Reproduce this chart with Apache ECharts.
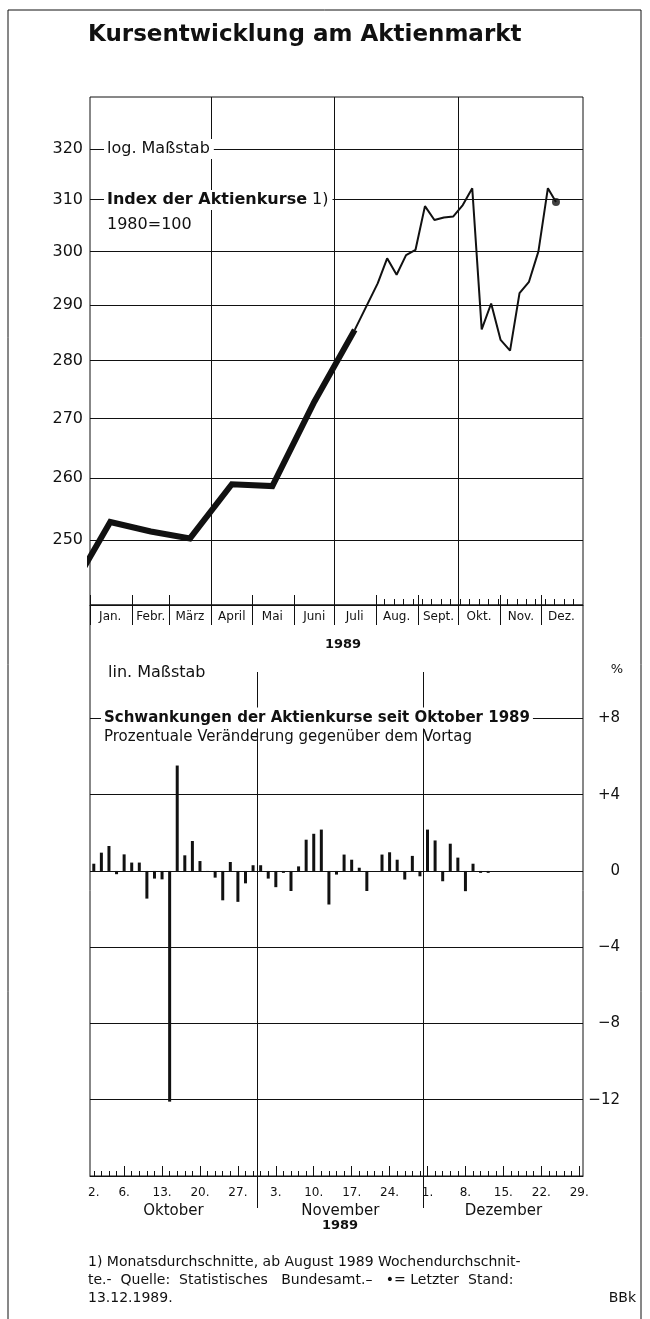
<!DOCTYPE html>
<html><head><meta charset="utf-8">
<script src="https://cdn.jsdelivr.net/npm/echarts@6/dist/echarts.min.js"></script>
<style>html,body{margin:0;padding:0;background:#fff}#c{width:650px;height:1319px}</style>
</head><body><div id="c"></div>
<script>
// ---------- Top chart data ----------
const monthLabels = ['Jan.','Febr.','März','April','Mai','Juni','Juli','Aug.','Sept.','Okt.','Nov.','Dez.'];
const monthStarts = ['1989-01-01','1989-02-01','1989-03-01','1989-04-01','1989-05-01','1989-06-01','1989-07-01','1989-08-01','1989-09-01','1989-10-01','1989-11-01','1989-12-01'];
const monthMids = ['1989-01-16','1989-02-15','1989-03-16','1989-04-16','1989-05-16','1989-06-16','1989-07-16','1989-08-16','1989-09-16','1989-10-16','1989-11-16','1989-12-16'];
const quarterLines = ['1989-04-01','1989-07-01','1989-10-01'];
const weekTicks = ['1989-08-07','1989-08-14','1989-08-21','1989-08-28','1989-09-04','1989-09-11','1989-09-18','1989-09-25','1989-10-02','1989-10-09','1989-10-16','1989-10-23','1989-10-30','1989-11-06','1989-11-13','1989-11-20','1989-11-27','1989-12-04','1989-12-11','1989-12-18','1989-12-25'];
const yTicksTop = [250,260,270,280,290,300,310,320];
const monthlyDates = ['1988-12-16','1989-01-16','1989-02-15','1989-03-16','1989-04-16','1989-05-16','1989-06-16','1989-07-16'];
const monthlyValues = [241.6,252.9,251.4,250.3,259.0,258.7,272.8,285.5];
const weeklyDates = ['1989-07-16','1989-08-02','1989-08-09','1989-08-16','1989-08-23','1989-08-30','1989-09-06','1989-09-13','1989-09-20','1989-09-27','1989-10-04','1989-10-11','1989-10-18','1989-10-25','1989-11-01','1989-11-08','1989-11-15','1989-11-22','1989-11-29','1989-12-06','1989-12-12'];
const weeklyValues = [285.5,294.0,298.7,295.6,299.3,300.3,308.7,306.0,306.5,306.7,308.9,312.2,285.6,290.3,283.7,281.8,292.2,294.3,300.0,312.2,309.5];

// ---------- Bottom chart data ----------
const tradingDays = ['02.10.','03.10.','04.10.','05.10.','06.10.','09.10.','10.10.','11.10.','12.10.','13.10.','16.10.','17.10.','18.10.','19.10.','20.10.','23.10.','24.10.','25.10.','26.10.','27.10.','30.10.','31.10.',
 '01.11.','02.11.','03.11.','06.11.','07.11.','08.11.','09.11.','10.11.','13.11.','14.11.','15.11.','16.11.','17.11.','20.11.','21.11.','22.11.','23.11.','24.11.','27.11.','28.11.','29.11.','30.11.',
 '01.12.','04.12.','05.12.','06.12.','07.12.','08.12.','11.12.','12.12.','13.12.','14.12.','15.12.','18.12.','19.12.','20.12.','21.12.','22.12.','25.12.','26.12.','27.12.','28.12.','29.12.'];
const dailyChanges = [0.38,0.96,1.31,-0.17,0.87,0.44,0.44,-1.45,-0.40,-0.44,-12.1,5.53,0.82,1.57,0.52,-0.05,-0.35,-1.54,0.47,-1.62,-0.65,0.30,
 0.30,-0.40,-0.85,-0.10,-1.05,0.24,1.64,1.95,2.17,-1.76,-0.19,0.86,0.59,0.17,-1.05,0.0,0.86,0.98,0.59,-0.45,0.79,-0.28,
 2.17,1.60,-0.54,1.43,0.70,-1.06,0.38,-0.10,-0.10];
const labeledDays = ['02.10.','06.10.','13.10.','20.10.','27.10.','03.11.','10.11.','17.11.','24.11.','01.12.','08.12.','15.12.','22.12.','29.12.'];
const fridayTicks = ['06.10.','13.10.','20.10.','27.10.','03.11.','10.11.','17.11.','24.11.','01.12.','08.12.','15.12.','22.12.','29.12.'];
const periodNames = ['Oktober','November','Dezember'];
const periodKeys = ['.10.','.11.','.12.'];
const pctTicks = [-12,-8,-4,0,4,8];

// ---------- helpers ----------
const BLACK = '#111';
const FONT = 'DejaVu Sans';
const toTs = s => new Date(s + 'T00:00:00Z').getTime();
const tMin = toTs('1989-01-01'), tMax = toTs('1990-01-01');
const periodStart = periodKeys.map(k => tradingDays.findIndex(d => d.endsWith(k)));
const periodBounds = periodStart.slice(1);
const periodCenters = periodStart.map((s, i) => (s + (i + 1 < periodStart.length ? periodStart[i + 1] : tradingDays.length)) / 2);
const lastIdx = weeklyDates.length - 1;
const midTs = monthMids.map(toTs);

const lineSt = {color: BLACK, width: 1};
function timeAxis(extra) {
  return Object.assign({type: 'value', gridIndex: 0, min: tMin, max: tMax, position: 'bottom', scale: true,
    axisLine: {show: false, onZero: false}, axisLabel: {show: false}, splitLine: {show: false}, axisTick: {show: false}}, extra);
}

const chart = echarts.init(document.getElementById('c'), null, {renderer: 'canvas'});
const option = {
  animation: false,
  backgroundColor: '#fff',
  textStyle: {fontFamily: FONT, color: BLACK},
  grid: [
    {left: 90, right: 67, top: 97, bottom: 714, show: true, borderColor: BLACK, borderWidth: 1, containLabel: false},
    {left: 90, right: 67, top: 605, bottom: 143, show: true, borderColor: BLACK, borderWidth: 1, containLabel: false}
  ],
  xAxis: [
    timeAxis({
      axisLine: {show: true, onZero: false, lineStyle: lineSt},
      axisTick: {show: true, inside: true, length: 10, customValues: monthStarts.map(toTs), lineStyle: lineSt},
      axisLabel: {show: true, customValues: midTs, formatter: v => monthLabels[new Date(v).getUTCMonth()],
        fontSize: 12, margin: 6, color: BLACK, fontFamily: FONT}
    }),
    timeAxis({axisTick: {show: true, inside: false, length: 20, customValues: monthStarts.map(toTs), lineStyle: lineSt}}),
    timeAxis({axisTick: {show: true, inside: true, length: 6, customValues: weekTicks.map(toTs), lineStyle: lineSt}}),
    timeAxis({axisTick: {show: false, customValues: quarterLines.map(toTs)}, splitLine: {show: true, lineStyle: lineSt}}),
    {type: 'category', gridIndex: 1, data: tradingDays, boundaryGap: true, position: 'bottom',
      axisLine: {show: true, onZero: false, lineStyle: lineSt},
      axisTick: {show: true, inside: true, length: 5, alignWithLabel: true, interval: 0, lineStyle: lineSt},
      axisLabel: {interval: (i, v) => labeledDays.indexOf(v) >= 0, formatter: v => parseInt(v, 10) + '.', fontSize: 12, margin: 11, color: BLACK, fontFamily: FONT},
      splitLine: {show: false}},
    {type: 'category', gridIndex: 1, data: tradingDays, boundaryGap: true, position: 'bottom',
      axisLine: {show: false, onZero: false},
      axisTick: {show: true, inside: true, length: 10, alignWithLabel: true, interval: (i, v) => fridayTicks.indexOf(v) >= 0, lineStyle: lineSt},
      axisLabel: {show: false}, splitLine: {show: false}},
    {type: 'value', gridIndex: 1, min: 0, max: tradingDays.length, position: 'bottom',
      axisLine: {show: false, onZero: false},
      axisTick: {show: true, inside: true, length: 504, customValues: periodBounds, lineStyle: lineSt},
      axisLabel: {show: true, customValues: periodCenters, formatter: v => periodNames[periodCenters.indexOf(v)], fontSize: 15, margin: 28, color: BLACK, fontFamily: FONT},
      splitLine: {show: false}},
    {type: 'value', gridIndex: 1, min: 0, max: tradingDays.length, position: 'bottom',
      axisLine: {show: false, onZero: false},
      axisTick: {show: true, inside: false, length: 32, customValues: periodBounds, lineStyle: lineSt},
      axisLabel: {show: false}, splitLine: {show: false}}
  ],
  yAxis: [
    {type: 'log', logBase: 10, gridIndex: 0, min: 240, max: 330.7, position: 'left',
      axisLine: {show: false, onZero: false}, axisTick: {show: false, customValues: yTicksTop},
      axisLabel: {customValues: yTicksTop, fontSize: 16, margin: 7, color: BLACK, fontFamily: FONT},
      splitLine: {show: true, lineStyle: lineSt}},
    {type: 'value', gridIndex: 1, min: -16, max: 13.95, position: 'right',
      axisLine: {show: false, onZero: false}, axisTick: {show: false, customValues: pctTicks},
      axisLabel: {customValues: pctTicks, formatter: v => v > 0 ? '+' + v : (v < 0 ? '\u2212' + (-v) : '0'),
        align: 'right', margin: 37, fontSize: 15, color: BLACK, fontFamily: FONT},
      splitLine: {show: true, lineStyle: lineSt}}
  ],
  series: [
    {type: 'line', xAxisIndex: 0, yAxisIndex: 0, data: monthlyDates.map((d, i) => [toTs(d), monthlyValues[i]]),
      symbol: 'none', clip: true, lineStyle: {width: 6, color: BLACK, join: 'miter'}, z: 5},
    {type: 'line', xAxisIndex: 0, yAxisIndex: 0, data: weeklyDates.map((d, i) => [toTs(d), weeklyValues[i]]),
      symbol: 'none', clip: true, lineStyle: {width: 2, color: BLACK}, z: 5},
    {type: 'scatter', xAxisIndex: 0, yAxisIndex: 0, data: [[toTs(weeklyDates[lastIdx]), weeklyValues[lastIdx]]],
      symbol: 'circle', symbolSize: 8, itemStyle: {color: BLACK}, z: 6},
    {type: 'bar', xAxisIndex: 4, yAxisIndex: 1, data: dailyChanges, barWidth: 3, itemStyle: {color: BLACK}, z: 5}
  ],
  graphic: [
    {type: 'line', z: 100, shape: {x1: 8, y1: 10, x2: 8, y2: 1319}, style: {stroke: BLACK, lineWidth: 1}},
    {type: 'line', z: 100, shape: {x1: 8, y1: 10, x2: 641, y2: 10}, style: {stroke: BLACK, lineWidth: 1}},
    {type: 'line', z: 100, shape: {x1: 641, y1: 10, x2: 641, y2: 1319}, style: {stroke: BLACK, lineWidth: 1}},
    {type: 'text', z: 100, x: 88, y: 35, style: {text: 'Kursentwicklung am Aktienmarkt', fontFamily: FONT, fontWeight: 'bold', fontSize: 23, fill: BLACK, verticalAlign: 'middle'}},
    {type: 'text', z: 100, x: 104, y: 149, style: {text: 'log. Maßstab', fontFamily: FONT, fontSize: 16, fill: BLACK, verticalAlign: 'middle', backgroundColor: '#fff', padding: [2, 4, 2, 3]}},
    {type: 'text', z: 100, x: 104, y: 200, style: {text: '{b|Index der Aktienkurse}{n| 1)}', rich: {b: {fontFamily: FONT, fontWeight: 'bold', fontSize: 16, fill: BLACK}, n: {fontFamily: FONT, fontSize: 16, fill: BLACK}}, fontFamily: FONT, fontSize: 16, verticalAlign: 'middle', backgroundColor: '#fff', padding: [2, 4, 2, 3]}},
    {type: 'text', z: 100, x: 107, y: 225, style: {text: '1980=100', fontFamily: FONT, fontSize: 16, fill: BLACK, verticalAlign: 'middle'}},
    {type: 'text', z: 100, x: 343, y: 645, style: {text: '1989', fontFamily: FONT, fontWeight: 'bold', fontSize: 13, fill: BLACK, align: 'center', verticalAlign: 'middle'}},
    {type: 'text', z: 100, x: 108, y: 673, style: {text: 'lin. Maßstab', fontFamily: FONT, fontSize: 16, fill: BLACK, verticalAlign: 'middle', backgroundColor: '#fff'}},
    {type: 'text', z: 100, x: 617, y: 670, style: {text: '%', fontFamily: FONT, fontSize: 13, fill: BLACK, align: 'center', verticalAlign: 'middle'}},
    {type: 'text', z: 100, x: 101, y: 718, style: {text: 'Schwankungen der Aktienkurse seit Oktober 1989', fontFamily: FONT, fontWeight: 'bold', fontSize: 15, fill: BLACK, verticalAlign: 'middle', backgroundColor: '#fff', padding: [3, 3, 3, 3]}},
    {type: 'text', z: 100, x: 104, y: 737, style: {text: 'Prozentuale Veränderung gegenüber dem Vortag', fontFamily: FONT, fontSize: 15, fill: BLACK, verticalAlign: 'middle'}},
    {type: 'text', z: 100, x: 340, y: 1226, style: {text: '1989', fontFamily: FONT, fontWeight: 'bold', fontSize: 13, fill: BLACK, align: 'center', verticalAlign: 'middle'}},
    {type: 'text', z: 100, x: 88, y: 1262, style: {text: '1) Monatsdurchschnitte, ab August 1989 Wochendurchschnit-', fontFamily: FONT, fontSize: 14, fill: BLACK, verticalAlign: 'middle'}},
    {type: 'text', z: 100, x: 88, y: 1280, style: {text: 'te.-  Quelle:  Statistisches   Bundesamt.\u2013   \u2022= Letzter  Stand:', fontFamily: FONT, fontSize: 14, fill: BLACK, verticalAlign: 'middle'}},
    {type: 'text', z: 100, x: 88, y: 1298, style: {text: '13.12.1989.', fontFamily: FONT, fontSize: 14, fill: BLACK, verticalAlign: 'middle'}},
    {type: 'text', z: 100, x: 636, y: 1298, style: {text: 'BBk', fontFamily: FONT, fontSize: 14, fill: BLACK, align: 'right', verticalAlign: 'middle'}}
  ]
};
chart.setOption(option);
</script>
</body></html>
